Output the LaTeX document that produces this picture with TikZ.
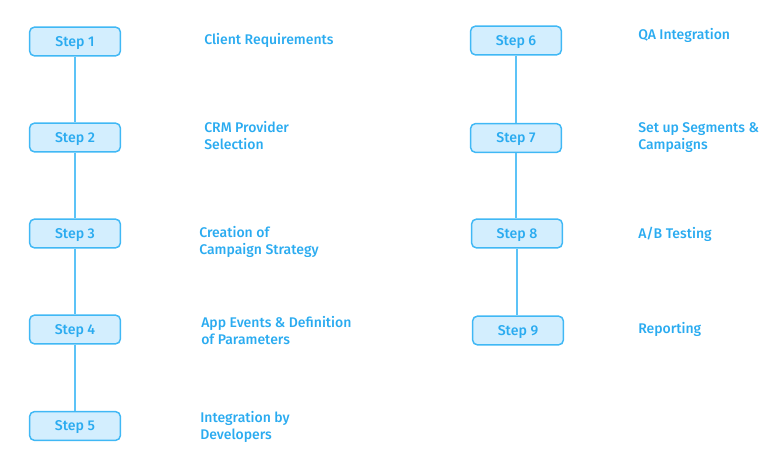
\documentclass[tikz,border=0pt]{standalone}
\usepackage{fontspec}
\setmainfont{Fira Sans Medium}
\definecolor{boxfill}{HTML}{D3EEFE}
\definecolor{boxline}{HTML}{40B8F5}
\definecolor{txt}{HTML}{2AABF0}
\definecolor{conn}{HTML}{5CC3F7}
\begin{document}
\begin{tikzpicture}[x=0.75pt,y=-0.75pt,
  stepbox/.style={draw=boxline,fill=boxfill,line width=1.1pt,rounded corners=3.5pt,
    minimum width=68pt,minimum height=21.5pt,inner sep=0pt,text height=7.4pt,text depth=0pt,
    text=txt,font=\fontsize{10.6}{12}\selectfont},
  lbl/.style={anchor=base west,align=left,inner sep=0pt,text=txt,font=\fontsize{10.5}{12.4}\selectfont},
  conn/.style={draw=conn,line width=0.8pt}]
\useasboundingbox (0,0) rectangle (783,468);
\node[stepbox] (s1) at (75,41.5) {Step 1};
\node[stepbox] (s2) at (75,137.5) {Step 2};
\node[stepbox] (s3) at (75,233.5) {Step 3};
\node[stepbox] (s4) at (75,329.5) {Step 4};
\node[stepbox] (s5) at (75,426) {Step 5};
\node[stepbox] (s6) at (516,40.5) {Step 6};
\node[stepbox] (s7) at (516,138) {Step 7};
\node[stepbox] (s8) at (517,233.5) {Step 8};
\node[stepbox] (s9) at (518,330.5) {Step 9};
\draw[conn] (s1) -- (s2);
\draw[conn] (s2) -- (s3);
\draw[conn] (s3) -- (s4);
\draw[conn] (s4) -- (s5);
\draw[conn] (s6) -- (s7);
\draw[conn] (s7.south) -- (s7.south|-s8.north);
\draw[conn] (s8.south) -- (s8.south|-s9.north);
\node[lbl] (l1) at (204,44) {Client Requirements};
\node[lbl] (l2) at (204,149) {CRM Provider\\Selection};
\node[lbl] (l3) at (199,254) {Creation of\\Campaign Strategy};
\node[lbl] (l4) at (201,344) {App Events \& Definition\\of Parameters};
\node[lbl] (l5) at (200,439) {Integration by\\Developers};
\node[lbl] (l6) at (638,39) {QA Integration};
\node[lbl] (l7) at (638,149) {Set up Segments \&\\Campaigns};
\node[lbl] (l8) at (638,238) {A/B Testing};
\node[lbl] (l9) at (638,333) {Reporting};
\end{tikzpicture}
\end{document}
